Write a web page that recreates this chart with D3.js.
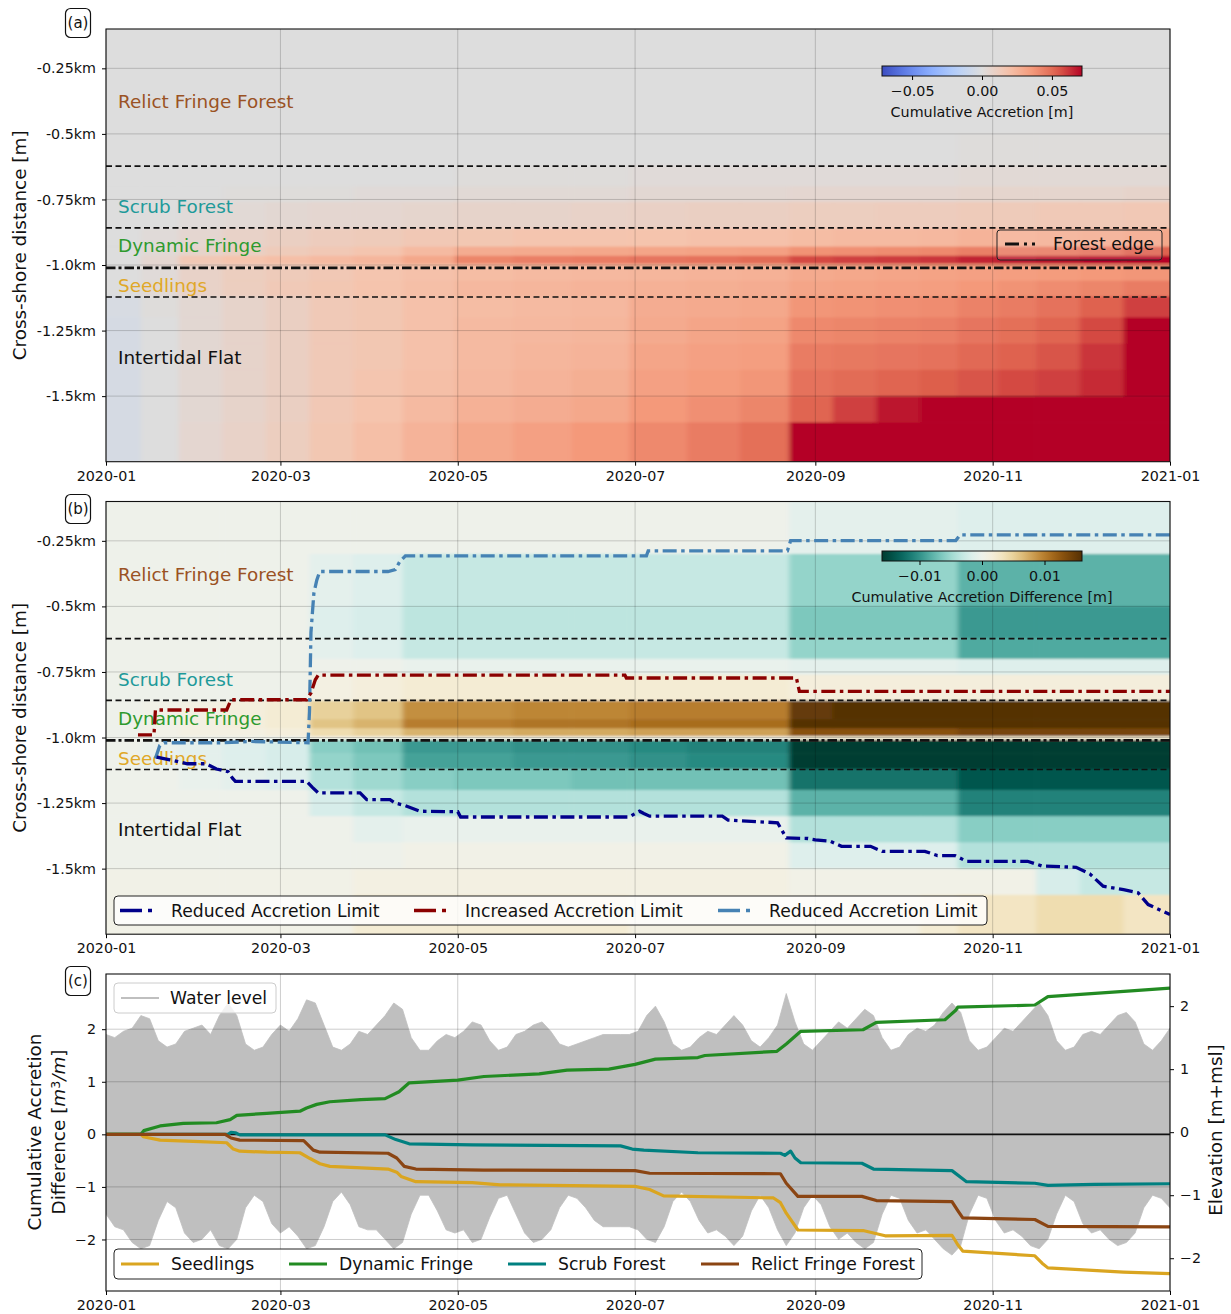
<!DOCTYPE html>
<html>
<head>
<meta charset="utf-8">
<script src="https://cdn.jsdelivr.net/npm/d3@7"></script>
<style>
  body { margin: 0; background: #fff; }
  text { font-family: "DejaVu Sans", sans-serif; fill: #111; }
</style>
</head>
<body>
<svg id="fig" width="1231" height="1314"></svg>
<script>
// ---------- data ----------
// heat map grid: column edges in days since 2020-01-01, row edges in km
const timeEdges = [0, 12, 25, 40, 55, 70, 85, 102, 120, 140, 160, 180, 200, 218, 235, 250, 265, 280, 293, 307, 320, 335, 350, 366];
const distEdges = [-0.1, -0.3, -0.5, -0.62, -0.7, -0.76, -0.86, -0.93, -0.965, -0.995, -1.01, -1.06, -1.12, -1.2, -1.3, -1.4, -1.5, -1.6, -1.75];

// (a) cumulative accretion [m], one row per distance band
const accretion = [
  [0,0,0,0,0,0,0,0,0,0,0,0,0,0,0,0,0,0,0,0,0,0,0],
  [0,0,0,0,0,0,0,0,0,0,0,0,0,0,0,0,0,0,0,0,0,0,0],
  [0,0,0,0,0,0,0,0,0,0,0,0,0,0,0,0,0,0,0.001,0.001,0.001,0.001,0.001],
  [0,0,0,0,0,0,0,0,0.001,0.001,0.001,0.002,0.002,0.002,0.002,0.002,0.002,0.002,0.003,0.003,0.003,0.003,0.003],
  [0,0,0,0.001,0.001,0.001,0.002,0.002,0.003,0.003,0.003,0.004,0.004,0.004,0.005,0.005,0.005,0.005,0.006,0.006,0.006,0.006,0.007],
  [0,0,0.002,0.003,0.004,0.005,0.005,0.006,0.007,0.007,0.008,0.009,0.010,0.010,0.011,0.011,0.012,0.012,0.013,0.013,0.014,0.014,0.015],
  [0,0.002,0.005,0.008,0.010,0.012,0.013,0.015,0.016,0.017,0.017,0.018,0.019,0.019,0.021,0.022,0.022,0.023,0.025,0.026,0.027,0.028,0.030],
  [0,0.003,0.007,0.010,0.013,0.015,0.017,0.022,0.028,0.029,0.030,0.031,0.032,0.033,0.038,0.039,0.040,0.041,0.044,0.045,0.046,0.048,0.053],
  [0,0.005,0.015,0.018,0.020,0.022,0.024,0.030,0.042,0.044,0.045,0.047,0.048,0.050,0.058,0.060,0.061,0.062,0.066,0.068,0.070,0.075,0.080],
  [0,0.004,0.010,0.012,0.014,0.016,0.018,0.021,0.024,0.025,0.026,0.027,0.028,0.029,0.032,0.033,0.034,0.035,0.036,0.037,0.038,0.039,0.040],
  [0,0.002,0.008,0.011,0.013,0.015,0.017,0.019,0.021,0.022,0.023,0.024,0.025,0.026,0.029,0.030,0.031,0.032,0.033,0.034,0.035,0.036,0.037],
  [0,0.003,0.008,0.011,0.014,0.016,0.018,0.020,0.023,0.024,0.025,0.026,0.027,0.028,0.031,0.032,0.033,0.034,0.036,0.038,0.040,0.042,0.045],
  [-0.003,0.001,0.004,0.007,0.010,0.014,0.016,0.019,0.021,0.022,0.023,0.028,0.029,0.030,0.037,0.038,0.039,0.040,0.043,0.045,0.048,0.053,0.060],
  [-0.004,0,0.004,0.007,0.010,0.014,0.016,0.019,0.022,0.023,0.024,0.029,0.031,0.032,0.041,0.042,0.043,0.044,0.047,0.049,0.052,0.058,0.072],
  [-0.004,0,0.004,0.007,0.010,0.014,0.016,0.019,0.022,0.024,0.025,0.031,0.033,0.034,0.045,0.046,0.047,0.048,0.051,0.053,0.056,0.062,0.080],
  [-0.004,0,0.004,0.007,0.010,0.014,0.017,0.020,0.023,0.025,0.027,0.033,0.035,0.037,0.048,0.050,0.052,0.054,0.056,0.058,0.060,0.064,0.080],
  [-0.004,0,0.004,0.007,0.010,0.015,0.018,0.022,0.026,0.028,0.030,0.036,0.039,0.042,0.052,0.060,0.068,0.075,0.075,0.075,0.075,0.075,0.080],
  [-0.004,0,0.005,0.008,0.011,0.016,0.020,0.025,0.030,0.033,0.036,0.041,0.045,0.049,0.075,0.080,0.080,0.080,0.080,0.080,0.080,0.080,0.080]
];

// (b) cumulative accretion difference [m]
const accretionDiff = [
  [0,0,0,0,0,0,0,0,0,0,0,0,0,0,-0.001,-0.001,-0.001,-0.001,-0.0015,-0.0015,-0.0015,-0.0015,-0.0015],
  [0,0,0,0,0,-0.001,-0.0015,-0.003,-0.003,-0.003,-0.003,-0.003,-0.003,-0.003,-0.0055,-0.0055,-0.0055,-0.0055,-0.0080,-0.0080,-0.0080,-0.0080,-0.0080],
  [0,0,0,0,0,-0.0015,-0.002,-0.0035,-0.0035,-0.0035,-0.0035,-0.0035,-0.0035,-0.0035,-0.0065,-0.0065,-0.0065,-0.0065,-0.0095,-0.0095,-0.0095,-0.0095,-0.0095],
  [0,0,0,0,0,-0.001,-0.0015,-0.003,-0.003,-0.003,-0.003,-0.003,-0.003,-0.003,-0.0055,-0.0055,-0.0055,-0.0055,-0.0085,-0.0085,-0.0085,-0.0085,-0.0085],
  [0,0,0,0,0,0,0,-0.0005,-0.0005,-0.0005,-0.0005,-0.0005,-0.0005,-0.0005,-0.001,-0.001,-0.001,-0.001,-0.0015,-0.0015,-0.0015,-0.0015,-0.0015],
  [0,0,0,0,0,0.001,0.0015,0.002,0.002,0.002,0.002,0.002,0.002,0.002,0.0015,0.0015,0.0015,0.0015,0.0015,0.0015,0.0015,0.0015,0.0015],
  [0,0.0005,0.001,0.0015,0.002,0.005,0.006,0.009,0.009,0.0095,0.0095,0.010,0.010,0.010,0.015,0.016,0.016,0.016,0.017,0.017,0.017,0.017,0.017],
  [0,0.0005,0.001,0.0015,0.002,0.006,0.007,0.010,0.010,0.0105,0.0105,0.011,0.011,0.011,0.018,0.018,0.018,0.018,0.019,0.019,0.019,0.019,0.019],
  [0,0.0005,0.001,0.001,0.0015,0.004,0.005,0.007,0.007,0.0075,0.0075,0.008,0.008,0.008,0.013,0.013,0.013,0.013,0.014,0.014,0.014,0.014,0.014],
  [0,0,0,0,0,0.001,0.001,0.001,0.001,0.001,0.001,0.001,0.001,0.001,0.002,0.002,0.002,0.002,0.002,0.002,0.002,0.002,0.002],
  [0,-0.0005,-0.001,-0.0015,-0.002,-0.006,-0.007,-0.0095,-0.0095,-0.010,-0.010,-0.0105,-0.011,-0.011,-0.017,-0.017,-0.017,-0.017,-0.018,-0.018,-0.018,-0.018,-0.018],
  [0,-0.0005,-0.001,-0.0015,-0.002,-0.0055,-0.0065,-0.009,-0.009,-0.0095,-0.0095,-0.010,-0.0105,-0.0105,-0.016,-0.016,-0.016,-0.016,-0.017,-0.017,-0.017,-0.017,-0.017],
  [0,0,-0.0005,-0.001,-0.0015,-0.004,-0.005,-0.006,-0.0065,-0.0065,-0.007,-0.007,-0.007,-0.007,-0.012,-0.012,-0.012,-0.012,-0.014,-0.014,-0.014,-0.014,-0.014],
  [0,0,0,0,0,-0.002,-0.003,-0.004,-0.004,-0.004,-0.004,-0.004,-0.004,-0.004,-0.008,-0.008,-0.008,-0.008,-0.011,-0.011,-0.011,-0.011,-0.011],
  [0,0,0,0,0,0,-0.001,-0.0005,-0.0005,-0.0005,-0.0005,-0.0005,-0.0005,-0.0005,-0.004,-0.004,-0.004,-0.004,-0.006,-0.006,-0.006,-0.006,-0.006],
  [0,0,0,0,0,0,0,0.0005,0.0005,0.0005,0.0005,0.0005,0.0005,0.0005,-0.0015,-0.0015,-0.0015,-0.0015,-0.004,-0.004,-0.004,-0.004,-0.004],
  [0.0005,0.0005,0.0005,0.0005,0.0005,0.0005,0.001,0.001,0.001,0.001,0.001,0.001,0.001,0.001,0.0005,0.0005,0.0005,0.0005,0.0005,0.0005,-0.002,-0.003,-0.003],
  [0.0005,0.0005,0.0005,0.0005,0.0005,0.0005,0.002,0.002,0.002,0.002,0.002,0.001,0.001,0.001,0.001,0.001,0.001,0.002,0.003,0.003,0.004,0.004,0.003]
];

const zoneLines = [-0.623, -0.858, -1.122];
const forestEdge = -1.011;
const distTicks = [-0.25, -0.5, -0.75, -1.0, -1.25, -1.5];
const distTickLabels = ["-0.25km", "-0.5km", "-0.75km", "-1.0km", "-1.25km", "-1.5km"];
const zoneNames = ["Relict Fringe Forest", "Scrub Forest", "Dynamic Fringe", "Seedlings", "Intertidal Flat"];

// (b) accretion limits: [day, km]
const reducedLower = [[17.4,-1.075],[22,-1.085],[28,-1.1],[34.4,-1.1],[38,-1.12],[42,-1.13],[43.5,-1.155],[44.5,-1.167],[69,-1.167],[71,-1.19],[73,-1.211],[87.4,-1.211],[89.7,-1.237],[97.7,-1.237],[99.5,-1.25],[103,-1.26],[108,-1.281],[121,-1.283],[122,-1.303],[180,-1.303],[182,-1.29],[183.5,-1.281],[185,-1.29],[187,-1.3],[212,-1.3],[214,-1.315],[231,-1.325],[234,-1.383],[241.5,-1.385],[244,-1.39],[249,-1.395],[253,-1.415],[263,-1.415],[267,-1.434],[281.7,-1.434],[286,-1.45],[292,-1.45],[296,-1.472],[317,-1.472],[322,-1.49],[333.7,-1.495],[338.4,-1.52],[343,-1.567],[350,-1.58],[355,-1.592],[358.5,-1.637],[366,-1.675]];
const increasedLimit = [[11,-0.99],[16.5,-0.99],[17,-0.895],[41.5,-0.895],[43,-0.856],[69,-0.856],[70.5,-0.83],[72,-0.78],[73,-0.762],[178.5,-0.762],[179,-0.773],[237.5,-0.773],[238.5,-0.824],[366,-0.824]];
const reducedUpper = [[17,-1.08],[18.5,-1.03],[20,-1.02],[40,-1.02],[50,-1.015],[69.5,-1.02],[70,-0.9],[70.5,-0.6],[71.5,-0.45],[72.5,-0.4],[73.5,-0.367],[97,-0.367],[99.5,-0.36],[101,-0.33],[103,-0.307],[185.9,-0.307],[186.5,-0.288],[234.4,-0.288],[235.5,-0.249],[292.3,-0.249],[293.8,-0.227],[366,-0.227]];

// (c) water level envelope [m+msl], every 3 days from 2020-01-01
const waterStep = 3;
const waterHigh = [1.55,1.5,1.6,1.65,1.85,1.8,1.45,1.35,1.4,1.6,
  1.65,1.7,1.55,1.85,2.05,1.85,1.4,1.3,1.35,1.55,
  1.7,1.6,1.8,2.1,2.05,1.7,1.35,1.3,1.4,1.6,
  1.55,1.7,1.85,2.05,1.95,1.5,1.3,1.3,1.45,1.55,
  1.5,1.6,1.75,1.7,1.45,1.3,1.35,1.55,1.6,1.7,
  1.75,1.6,1.4,1.35,1.4,1.45,1.5,1.55,1.55,1.55,
  1.55,1.6,1.85,2.0,1.75,1.4,1.3,1.35,1.5,1.6,
  1.55,1.7,1.85,1.7,1.45,1.35,1.5,1.7,2.2,1.75,
  1.4,1.3,1.45,1.6,1.75,1.65,1.8,1.95,1.85,1.5,
  1.3,1.35,1.55,1.65,1.6,1.7,1.9,2.05,1.9,1.45,
  1.3,1.35,1.5,1.65,1.6,1.75,1.9,2.05,1.85,1.45,
  1.3,1.35,1.55,1.6,1.55,1.7,1.85,1.9,1.75,1.4,
  1.3,1.45,1.65];
const waterLow = [-1.3,-1.5,-1.55,-1.75,-1.85,-1.8,-1.4,-1.1,-1.2,-1.6,
  -1.75,-1.7,-1.55,-1.8,-1.85,-1.7,-1.2,-1.0,-1.1,-1.45,
  -1.6,-1.5,-1.65,-1.85,-1.8,-1.5,-1.1,-0.95,-1.15,-1.5,
  -1.55,-1.55,-1.7,-1.85,-1.75,-1.3,-1.0,-1.0,-1.25,-1.55,
  -1.6,-1.55,-1.75,-1.7,-1.35,-1.05,-1.0,-1.3,-1.6,-1.75,
  -1.7,-1.55,-1.2,-1.0,-1.05,-1.2,-1.4,-1.5,-1.5,-1.5,
  -1.5,-1.55,-1.7,-1.75,-1.5,-1.1,-0.95,-1.1,-1.4,-1.6,
  -1.55,-1.65,-1.8,-1.65,-1.25,-1.0,-1.2,-1.55,-1.8,-1.6,
  -1.2,-1.0,-1.15,-1.5,-1.7,-1.6,-1.75,-1.85,-1.75,-1.3,
  -1.0,-1.05,-1.4,-1.6,-1.55,-1.7,-1.85,-1.95,-1.8,-1.3,
  -1.0,-1.05,-1.4,-1.6,-1.55,-1.65,-1.8,-1.85,-1.7,-1.3,
  -1.0,-1.1,-1.45,-1.6,-1.55,-1.7,-1.8,-1.75,-1.6,-1.2,
  -1.0,-1.05,-1.2];

// (c) cumulative accretion difference [m3/m]: [day, value]
const seedlings = [[0,0],[12,0],[12.8,-0.045],[18.6,-0.11],[32.3,-0.14],[41.5,-0.16],[43.8,-0.28],[46,-0.32],[55.3,-0.34],[66.7,-0.35],[70.2,-0.46],[73.6,-0.56],[77,-0.61],[97,-0.66],[100,-0.72],[101.5,-0.8],[106.6,-0.9],[126,-0.92],[135.6,-0.96],[182,-0.99],[187,-1.05],[191.8,-1.17],[229.6,-1.21],[232,-1.3],[234,-1.5],[238,-1.82],[260.4,-1.83],[268,-1.93],[291,-1.92],[293,-2.1],[294.7,-2.22],[319.5,-2.31],[322,-2.45],[324,-2.54],[350,-2.62],[366,-2.65]];
const dynamicFringe = [[0,0],[12,0],[13,0.07],[18.6,0.16],[26.6,0.21],[38,0.22],[42.7,0.28],[45,0.36],[55.3,0.4],[66.7,0.44],[69,0.5],[72.5,0.57],[77,0.62],[87.7,0.66],[96,0.68],[100.8,0.81],[104.3,0.98],[121,1.03],[130,1.1],[149,1.15],[158.6,1.22],[173,1.24],[182,1.33],[189,1.43],[203.6,1.46],[206,1.5],[230.8,1.58],[234,1.72],[239,1.96],[260.4,1.99],[265,2.13],[288.6,2.18],[292.3,2.36],[293,2.42],[319.5,2.46],[324,2.62],[352.6,2.73],[366,2.78]];
const scrubForest = [[0,0],[42,0],[43,0.04],[44.5,0.03],[46,-0.01],[96,-0.01],[99.7,-0.1],[104.3,-0.18],[126,-0.2],[177,-0.22],[181,-0.28],[185,-0.3],[203.6,-0.35],[232,-0.36],[233.5,-0.4],[235.5,-0.32],[237,-0.45],[239,-0.54],[260,-0.55],[264,-0.66],[291,-0.69],[296,-0.9],[319.5,-0.93],[324,-0.97],[340,-0.95],[366,-0.94]];
const relictFringe = [[0,0],[41,0],[43,-0.07],[46,-0.11],[68,-0.12],[71.3,-0.3],[73.6,-0.34],[97,-0.36],[100,-0.45],[102.6,-0.61],[106.6,-0.66],[130,-0.68],[182,-0.69],[187,-0.74],[232,-0.75],[234,-0.93],[238,-1.18],[260,-1.18],[265,-1.26],[291,-1.28],[293,-1.45],[294.7,-1.59],[319.5,-1.62],[324,-1.75],[366,-1.76]];

// ---------- layout ----------
const svg = d3.select("#fig");
const start = Date.UTC(2020, 0, 1);
const day = d => new Date(start + d * 864e5);
const L = 106, R = 1170;
const x = d3.scaleUtc().domain([day(0), day(366)]).range([L, R]);
const monthTicks = x.ticks(d3.utcMonth.every(2));

const coolwarm = d3.piecewise(d3.interpolateRgb, ["#3b4cc0","#6282ea","#8db0fe","#b8d0f9","#dddddd","#f5c4ad","#f49a7b","#de604d","#b40426"]);
const colorA = d3.scaleSequential(coolwarm).domain([-0.0715, 0.0715]).clamp(true);
const colorB = d3.scaleSequential(t => d3.interpolateBrBG(1 - t)).domain([-0.016, 0.016]).clamp(true);

const defs = svg.append("defs");
defs.append("filter").attr("id", "soft").attr("x", "-5%").attr("y", "-5%").attr("width", "110%").attr("height", "110%")
  .append("feGaussianBlur").attr("stdDeviation", "2.5 1");

const zoneColors = ["#9a5224", "#1e9a9a", "#2e9a2e", "#e0a828", "#111111"];
const zoneLabelKm = [-0.377, -0.778, -0.926, -1.079, -1.352];

function bottomAxis(yPos) {
  const ax = svg.append("g").attr("transform", `translate(0,${yPos})`)
    .call(d3.axisBottom(x).tickValues(monthTicks).tickFormat(d3.utcFormat("%Y-%m")).tickSize(4).tickPadding(5));
  ax.attr("font-family", null);
  ax.select(".domain").remove();
  ax.selectAll("text").attr("font-size", 14.3);
}

function panelTag(label, cy) {
  svg.append("rect").attr("x", 65.5).attr("y", cy - 14.5).attr("width", 25).attr("height", 29)
    .attr("rx", 5).attr("fill", "#fff").attr("stroke", "#111").attr("stroke-width", 1.2);
  svg.append("text").attr("x", 78).attr("y", cy).attr("dy", "0.35em").attr("text-anchor", "middle")
    .attr("font-size", 15).text(label);
}

function colorbar(id, x0, y0, color, ticks, title) {
  const w = 200, h = 10;
  const [lo, hi] = color.domain();
  const cb = d3.scaleLinear().domain([lo, hi]).range([x0, x0 + w]);
  const grad = defs.append("linearGradient").attr("id", id);
  grad.selectAll("stop").data(d3.range(0, 1.0001, 0.05)).join("stop")
    .attr("offset", t => t).attr("stop-color", t => color(lo + t * (hi - lo)));
  svg.append("rect").attr("x", x0).attr("y", y0).attr("width", w).attr("height", h)
    .attr("fill", `url(#${id})`).attr("stroke", "#111").attr("stroke-width", 1);
  const ax = svg.append("g").attr("transform", `translate(0,${y0 + h})`)
    .call(d3.axisBottom(cb).tickValues(ticks).tickFormat(d3.format(".2f")).tickSize(4).tickPadding(6));
  ax.attr("font-family", null);
  ax.select(".domain").remove();
  ax.selectAll("text").attr("font-size", 14.3);
  svg.append("text").attr("x", x0 + w / 2).attr("y", y0 + 46).attr("dy", "0.35em")
    .attr("text-anchor", "middle").attr("font-size", 14.3).text(title);
}

function heatPanel(id, top, bottom, grid, color) {
  const y = d3.scaleLinear().domain([-0.1, -1.75]).range([top, bottom]);
  defs.append("clipPath").attr("id", "clip-" + id).append("rect")
    .attr("x", L).attr("y", top).attr("width", R - L).attr("height", bottom - top);
  const nC = timeEdges.length - 1, nR = distEdges.length - 1;
  const cells = [];
  grid.forEach((row, i) => row.forEach((v, j) => cells.push({ i, j, v })));
  const pad = 14;
  svg.append("g").attr("clip-path", `url(#clip-${id})`)
    .append("g").attr("filter", "url(#soft)")
    .selectAll("rect").data(cells).join("rect")
      .attr("x", d => x(day(timeEdges[d.j])) - (d.j === 0 ? pad : 0))
      .attr("y", d => y(distEdges[d.i]) - (d.i === 0 ? pad : 0))
      .attr("width", d => x(day(timeEdges[d.j + 1])) - x(day(timeEdges[d.j])) + (d.j === 0 ? pad : 0) + (d.j === nC - 1 ? pad : 0) + 0.6)
      .attr("height", d => y(distEdges[d.i + 1]) - y(distEdges[d.i]) + (d.i === 0 ? pad : 0) + (d.i === nR - 1 ? pad : 0) + 0.6)
      .attr("fill", d => color(d.v));

  // grid
  const grid_g = svg.append("g").attr("stroke", "#000").attr("stroke-opacity", 0.18).attr("stroke-width", 1);
  grid_g.selectAll(".vx").data(monthTicks).join("line")
    .attr("x1", d => x(d)).attr("x2", d => x(d)).attr("y1", top).attr("y2", bottom);
  grid_g.selectAll(".hy").data(distTicks).join("line")
    .attr("x1", L).attr("x2", R).attr("y1", d => y(d)).attr("y2", d => y(d));

  svg.append("g").selectAll("line").data(zoneLines).join("line")
    .attr("x1", L).attr("x2", R).attr("y1", d => y(d)).attr("y2", d => y(d))
    .attr("stroke", "#111").attr("stroke-width", 1.7).attr("stroke-dasharray", "6,3.5");
  svg.append("line").attr("x1", L).attr("x2", R).attr("y1", y(forestEdge)).attr("y2", y(forestEdge))
    .attr("stroke", "#111").attr("stroke-width", 2.8).attr("stroke-dasharray", "9.5,3,3,3");

  svg.append("g").selectAll("text").data(zoneNames).join("text")
    .attr("x", 118).attr("y", (d, i) => y(zoneLabelKm[i])).attr("dy", "0.35em")
    .attr("font-size", 18.4).style("fill", (d, i) => zoneColors[i]).text(d => d);

  const ay = svg.append("g").attr("transform", `translate(${L},0)`)
    .call(d3.axisLeft(y).tickValues(distTicks).tickFormat((d, i) => distTickLabels[i]).tickSize(4).tickPadding(6));
  ay.attr("font-family", null);
  ay.select(".domain").remove();
  ay.selectAll("text").attr("font-size", 14.3);

  svg.append("text").attr("transform", `translate(20,${(top + bottom) / 2}) rotate(-90)`)
    .attr("text-anchor", "middle").attr("dy", "0.35em").attr("font-size", 18.4).text("Cross-shore distance [m]");

  bottomAxis(bottom);
  return y;
}

function spine(top, bottom) {
  svg.append("rect").attr("x", L).attr("y", top).attr("width", R - L).attr("height", bottom - top)
    .attr("fill", "none").attr("stroke", "#111").attr("stroke-width", 1.1);
}

// ---------- panel (a) ----------
const topA = 29, botA = 461.7;
heatPanel("a", topA, botA, accretion, colorA);
colorbar("cbA", 882, 66, colorA, [-0.05, 0, 0.05], "Cumulative Accretion [m]");
// forest edge legend
svg.append("rect").attr("x", 997).attr("y", 230).attr("width", 165).attr("height", 30).attr("rx", 3)
  .attr("fill", "#fff").attr("fill-opacity", 0.12).attr("stroke", "#222").attr("stroke-width", 1);
svg.append("line").attr("x1", 1005).attr("x2", 1040).attr("y1", 244).attr("y2", 244)
  .attr("stroke", "#111").attr("stroke-width", 2.8).attr("stroke-dasharray", "14,5,3,5,3,6");
svg.append("text").attr("x", 1053).attr("y", 244).attr("dy", "0.35em").attr("font-size", 17.2).text("Forest edge");
spine(topA, botA);
panelTag("(a)", 23);

// ---------- panel (b) ----------
const topB = 501.5, botB = 934.2;
const yB = heatPanel("b", topB, botB, accretionDiff, colorB);
colorbar("cbB", 882, 551, colorB, [-0.01, 0, 0.01], "Cumulative Accretion Difference [m]");
const limits = [
  { data: reducedLower, color: "#00008b", name: "Reduced Accretion Limit" },
  { data: increasedLimit, color: "#8b0000", name: "Increased Accretion Limit" },
  { data: reducedUpper, color: "#4682b4", name: "Reduced Accretion Limit" }
];
const limitLine = d3.line().x(d => x(day(d[0]))).y(d => yB(d[1]));
const limG = svg.append("g").attr("clip-path", "url(#clip-b)");
limG.selectAll("path").data([limits[2], limits[1], limits[0]]).join("path")
  .attr("d", d => limitLine(d.data)).attr("fill", "none").attr("stroke", d => d.color)
  .attr("stroke-width", 3.3).attr("stroke-dasharray", "14,4.5,3.5,4.5");
svg.append("rect").attr("x", 114).attr("y", 896).attr("width", 873).attr("height", 29).attr("rx", 4)
  .attr("fill", "#fff").attr("fill-opacity", 0.8).attr("stroke", "#222").attr("stroke-width", 1);
const legBx = [120, 414, 718];
limits.forEach((s, i) => {
  svg.append("line").attr("x1", legBx[i]).attr("x2", legBx[i] + 38).attr("y1", 910.5).attr("y2", 910.5)
    .attr("stroke", s.color).attr("stroke-width", 3.3).attr("stroke-dasharray", "22,6,4,10");
  svg.append("text").attr("x", legBx[i] + 51).attr("y", 910.5).attr("dy", "0.35em").attr("font-size", 17.2).text(s.name);
});
spine(topB, botB);
panelTag("(b)", 509);

// ---------- panel (c) ----------
const topC = 974, botC = 1291;
const yL = d3.scaleLinear().domain([-2.98, 3.05]).range([botC, topC]);
const yR = d3.scaleLinear().domain([-2.52, 2.51]).range([botC, topC]);
defs.append("clipPath").attr("id", "clip-c").append("rect")
  .attr("x", L).attr("y", topC).attr("width", R - L).attr("height", botC - topC);

const water = d3.area()
  .x((d, i) => x(day(i * waterStep)))
  .y0((d, i) => yR(waterLow[i]))
  .y1(d => yR(d));
svg.append("path").attr("clip-path", "url(#clip-c)").datum(waterHigh)
  .attr("d", water).attr("fill", "#bfbfbf").attr("stroke", "#bfbfbf").attr("stroke-width", 0.8);

const gridC = svg.append("g").attr("stroke", "#000").attr("stroke-opacity", 0.2).attr("stroke-width", 1);
gridC.selectAll(".v").data(monthTicks).join("line")
  .attr("x1", d => x(d)).attr("x2", d => x(d)).attr("y1", topC).attr("y2", botC);
gridC.selectAll(".h").data([-2, -1, 1, 2]).join("line")
  .attr("x1", L).attr("x2", R).attr("y1", d => yL(d)).attr("y2", d => yL(d));
svg.append("line").attr("x1", L).attr("x2", R).attr("y1", yL(0)).attr("y2", yL(0))
  .attr("stroke", "#111").attr("stroke-width", 1.6);

const series = [
  { data: seedlings, color: "#daa520", name: "Seedlings" },
  { data: dynamicFringe, color: "#228b22", name: "Dynamic Fringe" },
  { data: scrubForest, color: "#008080", name: "Scrub Forest" },
  { data: relictFringe, color: "#8b4513", name: "Relict Fringe Forest" }
];
const accLine = d3.line().x(d => x(day(d[0]))).y(d => yL(d[1]));
svg.append("g").attr("clip-path", "url(#clip-c)").selectAll("path").data(series).join("path")
  .attr("d", d => accLine(d.data)).attr("fill", "none").attr("stroke", d => d.color)
  .attr("stroke-width", 3.2).attr("stroke-linejoin", "round");

// legends
svg.append("rect").attr("x", 114).attr("y", 983).attr("width", 162).attr("height", 30).attr("rx", 4)
  .attr("fill", "#fff").attr("fill-opacity", 0.8).attr("stroke", "#cccccc").attr("stroke-width", 1);
svg.append("line").attr("x1", 121).attr("x2", 159).attr("y1", 998).attr("y2", 998)
  .attr("stroke", "#bfbfbf").attr("stroke-width", 2);
svg.append("text").attr("x", 170).attr("y", 998).attr("dy", "0.35em").attr("font-size", 17.2).text("Water level");

svg.append("rect").attr("x", 114).attr("y", 1249).attr("width", 808).attr("height", 30).attr("rx", 4)
  .attr("fill", "#fff").attr("fill-opacity", 0.8).attr("stroke", "#222").attr("stroke-width", 1);
const legCx = [121, 289, 508, 701];
series.forEach((s, i) => {
  svg.append("line").attr("x1", legCx[i]).attr("x2", legCx[i] + 38).attr("y1", 1264).attr("y2", 1264)
    .attr("stroke", s.color).attr("stroke-width", 3.2);
  svg.append("text").attr("x", legCx[i] + 50).attr("y", 1264).attr("dy", "0.35em").attr("font-size", 17.2).text(s.name);
});

const axL = svg.append("g").attr("transform", `translate(${L},0)`)
  .call(d3.axisLeft(yL).tickValues([-2, -1, 0, 1, 2]).tickFormat(d3.format("d")).tickSize(4).tickPadding(6));
axL.attr("font-family", null); axL.select(".domain").remove(); axL.selectAll("text").attr("font-size", 14.3);
const axR = svg.append("g").attr("transform", `translate(${R},0)`)
  .call(d3.axisRight(yR).tickValues([-2, -1, 0, 1, 2]).tickFormat(d3.format("d")).tickSize(4).tickPadding(6));
axR.attr("font-family", null); axR.select(".domain").remove(); axR.selectAll("text").attr("font-size", 14.3);
bottomAxis(botC);
spine(topC, botC);

svg.append("text").attr("transform", `translate(35,1132) rotate(-90)`).attr("text-anchor", "middle")
  .attr("dy", "0.35em").attr("font-size", 18.4).text("Cumulative Accretion");
const lab2 = svg.append("text").attr("transform", `translate(59,1132) rotate(-90)`).attr("text-anchor", "middle")
  .attr("dy", "0.35em").attr("font-size", 18.4);
lab2.append("tspan").text("Difference [");
lab2.append("tspan").attr("font-style", "italic").text("m");
lab2.append("tspan").attr("font-size", 12.5).attr("dy", "-0.45em").text("3");
lab2.append("tspan").attr("font-style", "italic").attr("dy", "0.3em").text("/m");
lab2.append("tspan").text("]");
svg.append("text").attr("transform", `translate(1216,1130) rotate(-90)`).attr("text-anchor", "middle")
  .attr("dy", "0.35em").attr("font-size", 18.4).text("Elevation [m+msl]");
panelTag("(c)", 981);
</script>
</body>
</html>
